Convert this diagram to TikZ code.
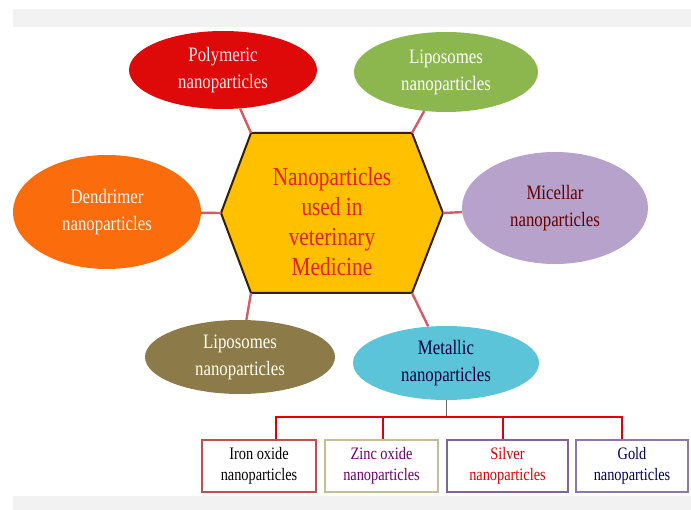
\documentclass[tikz,border=0pt]{standalone}
\usepackage{fontspec}
\setmainfont{Liberation Serif}[FakeStretch=0.82]
\usetikzlibrary{shapes.geometric}

\definecolor{polyred}{RGB}{222,10,10}
\definecolor{lipogreen}{RGB}{140,182,78}
\definecolor{dendorange}{RGB}{250,108,12}
\definecolor{micellar}{RGB}{182,162,202}
\definecolor{lipobrown}{RGB}{140,122,72}
\definecolor{metalblue}{RGB}{92,196,216}
\definecolor{hubgold}{RGB}{255,192,0}
\definecolor{hubred}{RGB}{232,32,28}
\definecolor{linkcol}{RGB}{212,92,104}
\definecolor{barred}{RGB}{228,0,0}
\definecolor{ironedge}{RGB}{192,80,77}
\definecolor{zincedge}{RGB}{196,189,151}
\definecolor{silveredge}{RGB}{128,100,162}
\definecolor{goldedge}{RGB}{140,120,170}
\colorlet{bandgray}{black!5}

\tikzset{
  blob/.style={ellipse, inner sep=0, align=center,
               font=\fontsize{20.5}{27}\selectfont},
  hub text/.style={align=center, text=hubred,
                   font=\fontsize{26}{30}\selectfont},
  stub/.style={draw=linkcol, line width=2.4pt},
  leaf/.style={draw, line width=1.4pt, fill=white, inner sep=0,
               minimum height=52pt, align=center,
               font=\fontsize{17.5}{21}\selectfont},
}

\begin{document}
\begin{tikzpicture}[x=1pt, y=-1pt]
        % 1 unit = 1 px of the sketch, y grows downwards
        % page = 691 x 510
        \useasboundingbox (0,0) rectangle (691,510);

        % ---- grey bands top and bottom ----
        \fill[bandgray] (13,9) rectangle (691,27);
        \fill[bandgray] (13,496) rectangle (691,510);

        % ---- hexagon in the middle ----
        \coordinate (hl)  at (221,213);
        \coordinate (htl) at (251,133);
        \coordinate (htr) at (412,133);
        \coordinate (hr)  at (443,213);
        \coordinate (hbr) at (412,293);
        \coordinate (hbl) at (251,293);
        \filldraw[fill=hubgold, draw=black!75!brown, line width=2pt, line join=miter]
          (hl) -- (htl) -- (htr) -- (hr) -- (hbr) -- (hbl) -- cycle;
        \node[hub text] (hub) at (332,222) {Nanoparticles\\used in\\veterinary\\Medicine};

        % ---- ellipses round the hexagon ----
        \node[blob, fill=polyred, text=red!8, minimum width=188pt, minimum height=78pt]
          (poly) at (223,70) {Polymeric\\nanoparticles};
        \node[blob, fill=lipogreen, text=white, minimum width=184pt, minimum height=80pt]
          (lipoA) at (446,72) {Liposomes\\nanoparticles};
        \node[blob, fill=dendorange, text=orange!8, minimum width=188pt, minimum height=114pt]
          (dend) at (107,212) {Dendrimer\\nanoparticles};
        \node[blob, fill=micellar, text=red!40!black, minimum width=186pt, minimum height=112pt]
          (mic) at (555,208) {Micellar\\nanoparticles};
        \node[blob, fill=lipobrown, text=yellow!6, minimum width=190pt, minimum height=74pt]
          (lipoB) at (240,357) {Liposomes\\nanoparticles};
        \node[blob, fill=metalblue, text=blue!25!black, minimum width=186pt, minimum height=74pt]
          (metal) at (446,363) {Metallic\\nanoparticles};

        % ---- stubs from the corners ----
        \draw[stub] (htl) -- (poly);
        \draw[stub] (htr) -- (lipoA);
        \draw[stub] (hl)  -- (dend);
        \draw[stub] (hr)  -- (mic);
        \draw[stub] (hbl) -- (lipoB);
        \draw[stub] (hbr) -- (metal);

        % ---- metallic subtypes ----
        \node[leaf, draw=ironedge, text=black, minimum width=114pt]
          (iron) at (259,466) {Iron oxide\\nanoparticles};
        \node[leaf, draw=zincedge, text=violet!85!black, minimum width=113pt]
          (zinc) at (381.5,466) {Zinc oxide\\nanoparticles};
        \node[leaf, draw=silveredge, text=red!85!black, minimum width=121pt]
          (silver) at (507.5,466) {Silver\\nanoparticles};
        \node[leaf, draw=goldedge, text=blue!30!black, minimum width=112pt]
          (gold) at (632,466) {Gold\\nanoparticles};

        % bar and drops (drops sit off centre as in the sketch)
        \coordinate (split) at (446,417);
        \coordinate (b1) at (276,417);
        \coordinate (b2) at (383,417);
        \coordinate (b3) at (503,417);
        \coordinate (b4) at (622,417);
        \draw[black!60, line width=1pt] (metal) -- (split);
        \draw[barred, line width=2.2pt]
          (b1 |- iron.north) -- (b1) -- (b4) -- (b4 |- gold.north);
        \draw[barred, line width=1.6pt] (b2) -- (b2 |- zinc.north);
        \draw[barred, line width=1.6pt] (b3) -- (b3 |- silver.north);
      \end{tikzpicture}
\end{document}
